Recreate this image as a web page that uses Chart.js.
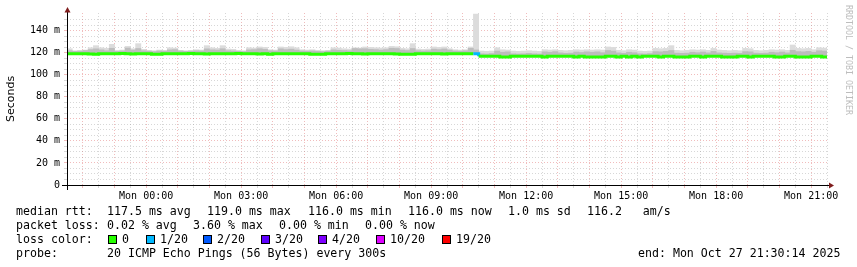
<!DOCTYPE html>
<html>
<head>
<meta charset="utf-8">
<script src="https://cdn.jsdelivr.net/npm/chart.js@4/dist/chart.umd.min.js"></script>
<style>
  html, body { margin:0; padding:0; background:#fff; }
  canvas { display:block; }
</style>
</head>
<body>
<canvas id="c" width="857" height="267" style="width:857px;height:267px"></canvas>
<script>

// time axis: hours relative to Mon 00:00, one slot = 10 minutes
const START_HOUR = -2.5
const END_HOUR   = 21.5
const SLOT       = 1/6

// median rtt per slot (ms)
const medianRtt = [
  119.0,119.0,119.1,119.0,118.9,118.5,119.0,119.1,119.0,119.0,119.2,119.0,
  118.9,119.0,119.1,119.0,118.5,118.6,119.0,119.0,119.1,119.0,119.0,119.2,
  119.1,119.0,118.9,119.0,119.0,119.1,119.0,119.0,119.2,119.1,119.0,119.0,
  118.9,119.0,118.5,119.0,119.0,119.1,119.0,119.0,119.1,119.0,118.6,118.5,
  118.6,119.0,119.0,119.1,119.0,119.2,119.0,119.0,118.9,119.0,119.1,119.0,
  119.0,119.0,118.9,118.5,118.6,118.5,119.0,119.0,119.1,119.0,119.0,118.9,
  119.0,119.0,119.1,119.0,119.0,119.0,116.8,116.7,116.7,116.8,116.0,116.1,
  116.7,116.8,116.7,116.7,116.8,116.7,116.0,116.7,116.7,116.8,116.7,116.7,
  116.0,116.7,116.1,116.0,116.0,116.1,116.7,116.7,116.0,116.7,116.0,116.7,
  116.1,116.7,116.8,116.7,116.0,116.7,116.7,116.0,116.1,116.0,116.7,116.8,
  116.0,116.7,116.7,116.8,116.0,116.1,116.0,116.7,116.7,116.0,116.7,116.8,
  116.7,116.7,116.0,116.1,116.7,116.7,116.0,116.0,116.1,116.7,116.7,116.0
]

// inner (dark) smoke top per slot (ms)
const smokeInner = [
  121.8,121.2,121.4,122.0,122.8,123.5,122.6,121.8,124.0,121.2,121.6,124.2,
  122.4,123.8,121.8,121.4,121.0,121.6,121.4,122.6,122.8,121.6,121.2,121.4,
  121.8,121.6,123.5,122.6,122.4,123.6,121.8,121.6,121.2,121.0,122.6,122.8,
  123.6,123.0,121.8,121.6,123.5,122.8,123.2,122.4,121.6,121.4,121.6,121.2,
  121.0,121.4,122.6,122.2,122.0,121.8,123.8,123.5,123.6,123.0,122.8,122.4,
  122.8,124.0,123.8,122.4,122.0,123.8,121.8,121.6,121.8,123.2,122.8,123.4,
  122.4,121.6,121.4,121.8,124.0,122.5,119.0,118.8,119.2,121.5,120.4,120.8,
  119.0,118.8,119.0,119.4,119.0,118.8,120.8,120.4,121.0,119.8,119.4,119.6,
  120.6,120.2,120.8,120.4,120.8,120.0,122.0,121.5,119.8,119.4,120.4,120.0,
  119.0,118.8,119.2,121.0,120.8,121.2,122.0,119.6,119.4,119.6,120.4,120.0,
  120.6,119.8,121.2,119.8,119.6,119.4,119.6,119.4,121.0,120.8,119.6,119.4,
  119.6,120.4,120.0,120.6,119.8,122.2,121.0,120.8,121.2,120.4,121.8,121.5
]

// outer (light) smoke top per slot (ms)
const smokeOuter = [
  123.6,121.8,122.1,122.4,124.5,126.4,124.5,124.0,127.6,122.1,122.4,125.7,
  123.6,128.2,123.0,122.1,121.8,122.4,122.1,124.5,124.2,122.1,121.8,122.1,
  122.7,122.4,126.4,124.5,124.0,126.4,123.3,123.0,122.1,121.8,124.5,124.2,
  125.2,124.8,122.7,122.4,125.2,124.8,125.4,124.5,122.7,122.4,122.7,122.1,
  121.8,122.1,124.5,124.2,123.6,123.3,124.5,124.2,125.2,124.8,124.5,124.2,
  124.5,125.7,125.4,123.9,123.6,128.2,123.3,123.0,123.3,125.2,124.8,125.2,
  123.6,122.7,122.4,122.7,125.2,155.0,121.5,121.2,121.5,124.5,122.7,122.4,
  121.5,121.2,121.5,121.8,121.5,121.2,122.7,122.4,122.7,122.1,121.8,122.1,
  122.7,122.4,122.7,122.4,122.7,122.4,125.2,124.8,122.1,121.8,122.7,122.4,
  121.5,121.2,121.5,123.9,123.6,123.9,126.4,122.1,121.8,122.1,122.7,122.4,
  122.7,122.1,123.9,122.4,122.1,121.8,122.1,121.8,123.9,123.6,122.1,121.8,
  122.1,122.7,122.4,122.7,122.1,127.0,123.9,123.6,123.9,122.7,124.5,124.2
]

// lost pings out of 20 per slot
const lostPings = [
  0,0,0,0,0,0,0,0,0,0,0,0, 0,0,0,0,0,0,0,0,0,0,0,0,
  0,0,0,0,0,0,0,0,0,0,0,0, 0,0,0,0,0,0,0,0,0,0,0,0,
  0,0,0,0,0,0,0,0,0,0,0,0, 0,0,0,0,0,0,0,0,0,0,0,0,
  0,0,0,0,0,1,0,0,0,0,0,0, 0,0,0,0,0,0,0,0,0,0,0,0,
  0,0,0,0,0,0,0,0,0,0,0,0, 0,0,0,0,0,0,0,0,0,0,0,0
]

const lossColors = [
  { label:'0',     min:0,  color:'#26ff00' },
  { label:'1/20',  min:1,  color:'#00b8ff' },
  { label:'2/20',  min:2,  color:'#0059ff' },
  { label:'3/20',  min:3,  color:'#5e00ff' },
  { label:'4/20',  min:4,  color:'#7e00ff' },
  { label:'10/20', min:10, color:'#dd00ff' },
  { label:'19/20', min:19, color:'#ff0000' },
]

const xLabelHours = [0, 3, 6, 9, 12, 15, 18, 21]
const yLabelStep  = 20

const legendRtt  = ['median rtt:', '117.5 ms avg', '119.0 ms max', '116.0 ms min', '116.0 ms now', '1.0 ms sd', '116.2   am/s']
const legendLoss = ['packet loss:', '0.02 % avg', '3.60 % max', '0.00 % min', '0.00 % now']
const probeText  = '20 ICMP Echo Pings (56 Bytes) every 300s'
const endText    = 'end: Mon Oct 27 21:30:14 2025'


const slotStart  = medianRtt.map((v, i) => START_HOUR + i*SLOT)
const slotCenter = slotStart.map(h => h + SLOT/2)

function lossColor(n){
      let c = lossColors[0].color
      lossColors.forEach(l => { if(n >= l.min) c = l.color })
      return c
}

const MONO = '"DejaVu Sans Mono", monospace'
const GRID_MINOR = 'rgba(150,150,150,0.38)'
const GRID_MAJOR = 'rgba(215,70,70,0.36)'
const ARROW = '#7f1d1d'

// grid colour: major lines red, minor grey
function xGrid(c){
      if(!c || !c.tick) return GRID_MINOR
      return Number.isInteger(c.tick.value) ? GRID_MAJOR : GRID_MINOR
}
function yGrid(c){
      if(!c || !c.tick) return GRID_MINOR
      return c.tick.value % yLabelStep === 0 ? GRID_MAJOR : GRID_MINOR
}

// axes, titles and the rrdtool style legend
const rrdDecor = {
  id: 'rrdDecor',
  afterDraw(chart){
      const ctx = chart.ctx
      const a = chart.chartArea
      ctx.save()

      // axis lines
      ctx.strokeStyle = '#000'
      ctx.lineWidth = 1
      ctx.beginPath()
      ctx.moveTo(62, a.bottom + 0.5); ctx.lineTo(a.right + 3, a.bottom + 0.5)
      ctx.moveTo(a.left + 0.5, a.bottom + 5); ctx.lineTo(a.left + 0.5, a.top - 1)
      ctx.stroke()

      // arrows
      ctx.fillStyle = ARROW
      ctx.beginPath()
      ctx.moveTo(a.right + 2, a.bottom - 2.5); ctx.lineTo(a.right + 7, a.bottom + 0.5); ctx.lineTo(a.right + 2, a.bottom + 3.5)
      ctx.fill()
      ctx.beginPath()
      ctx.moveTo(a.left - 2.5, a.top - 0.5); ctx.lineTo(a.left + 0.5, a.top - 6); ctx.lineTo(a.left + 3.5, a.top - 0.5)
      ctx.fill()

      // y title
      ctx.fillStyle = '#000'
      ctx.font = '11px "DejaVu Sans", sans-serif'
      ctx.textAlign = 'center'
      ctx.textBaseline = 'middle'
      ctx.translate(11, 99)
      ctx.rotate(-Math.PI/2)
      ctx.fillText('Seconds', 0, 0)
      ctx.setTransform(1, 0, 0, 1, 0, 0)

      // watermark
      ctx.fillStyle = '#bdbdbd'
      ctx.font = '8.3px ' + MONO
      ctx.translate(848, 60)
      ctx.rotate(Math.PI/2)
      ctx.fillText('RRDTOOL / TOBI OETIKER', 0, 0)
      ctx.setTransform(1, 0, 0, 1, 0, 0)

      // legend rows
      ctx.fillStyle = '#000'
      ctx.font = '11.6px ' + MONO
      ctx.textAlign = 'left'
      ctx.textBaseline = 'alphabetic'

      const rttX = [16, 107, 207, 308, 408, 508, 587]
      legendRtt.forEach((t, i) => ctx.fillText(t, rttX[i], 215))

      const lossX = [16, 107, 193, 279, 365]
      legendLoss.forEach((t, i) => ctx.fillText(t, lossX[i], 229))

      ctx.fillText('loss color:', 16, 243)
      const boxX = [108, 146, 203, 261, 318, 376, 442]
      lossColors.forEach((l, i) => {
            ctx.fillStyle = l.color
            ctx.fillRect(boxX[i], 235, 8, 8)
            ctx.strokeStyle = '#000'
            ctx.strokeRect(boxX[i] + 0.5, 235.5, 8, 8)
            ctx.fillStyle = '#000'
            ctx.fillText(l.label, boxX[i] + 14, 243)
      })

      ctx.fillText('probe:', 16, 257)
      ctx.fillText(probeText, 107, 257)
      ctx.fillText(endText, 638, 257)

      ctx.restore()
  }
}


const setup = {
      type: 'bar',
      data: {
        datasets: [
          {
            type: 'line',
            label: 'median',
            data: medianRtt.map((v, i) => ({ x: slotStart[i], y: v })).concat([{ x: END_HOUR, y: medianRtt[medianRtt.length - 1] }]),
            stepped: true,
            borderWidth: 3,
            pointRadius: 0,
            borderColor: lossColors[0].color,
            segment: { borderColor: c => lossColor(lostPings[c.p0DataIndex] || 0) },
            order: 0
          },
          {
            label: 'smoke inner',
            data: smokeInner.map((v, i) => ({ x: slotCenter[i], y: [medianRtt[i], v] })),
            backgroundColor: '#bdbdbd',
            grouped: false,
            barPercentage: 1,
            categoryPercentage: 1,
            order: 1
          },
          {
            label: 'smoke outer',
            data: smokeOuter.map((v, i) => ({ x: slotCenter[i], y: [medianRtt[i], v] })),
            backgroundColor: '#dcdcdc',
            grouped: false,
            barPercentage: 1,
            categoryPercentage: 1,
            order: 2
          }
        ]
      },
      options: {
            responsive: false,
            animation: false,
            devicePixelRatio: 1,
            layout: { padding: { top: 13, right: 30, left: 0, bottom: 0 } },
            plugins: { legend: { display:false }, tooltip: { enabled:false } },
            scales: {
              x: {
                type: 'linear',
                min: START_HOUR,
                max: END_HOUR,
                offset: false,
                afterFit: s => { s.height = 82 },
                border: { display: false, dash: [1, 2] },
                grid: {
                  color: xGrid,
                  offset: false,
                  tickLength: 3,
                  drawTicks: true
                },
                ticks: {
                  stepSize: 0.5,
                  autoSkip: false,
                  maxRotation: 0,
                  padding: 2,
                  color: '#000',
                  font: { family: MONO, size: 10 },
                  callback: v => xLabelHours.includes(v) ? 'Mon ' + String(v).padStart(2, '0') + ':00' : ''
                }
              },
              y: {
                min: 0,
                max: 156,
                afterFit: s => { s.width = 67 },
                afterBuildTicks: s => { s.ticks = s.ticks.filter(t => t.value % 5 === 0) },
                border: { display: false, dash: [1, 2] },
                grid: {
                  color: yGrid,
                  tickLength: 3
                },
                ticks: {
                  stepSize: 5,
                  autoSkip: false,
                  padding: 4,
                  color: '#000',
                  font: { family: MONO, size: 10 },
                  callback: v => v % yLabelStep === 0 ? (v === 0 ? '0' : v + ' m') : ''
                }
              }
            }
      },
      plugins: [rrdDecor]
}

new Chart(document.getElementById('c'), setup)

</script>
</body>
</html>
